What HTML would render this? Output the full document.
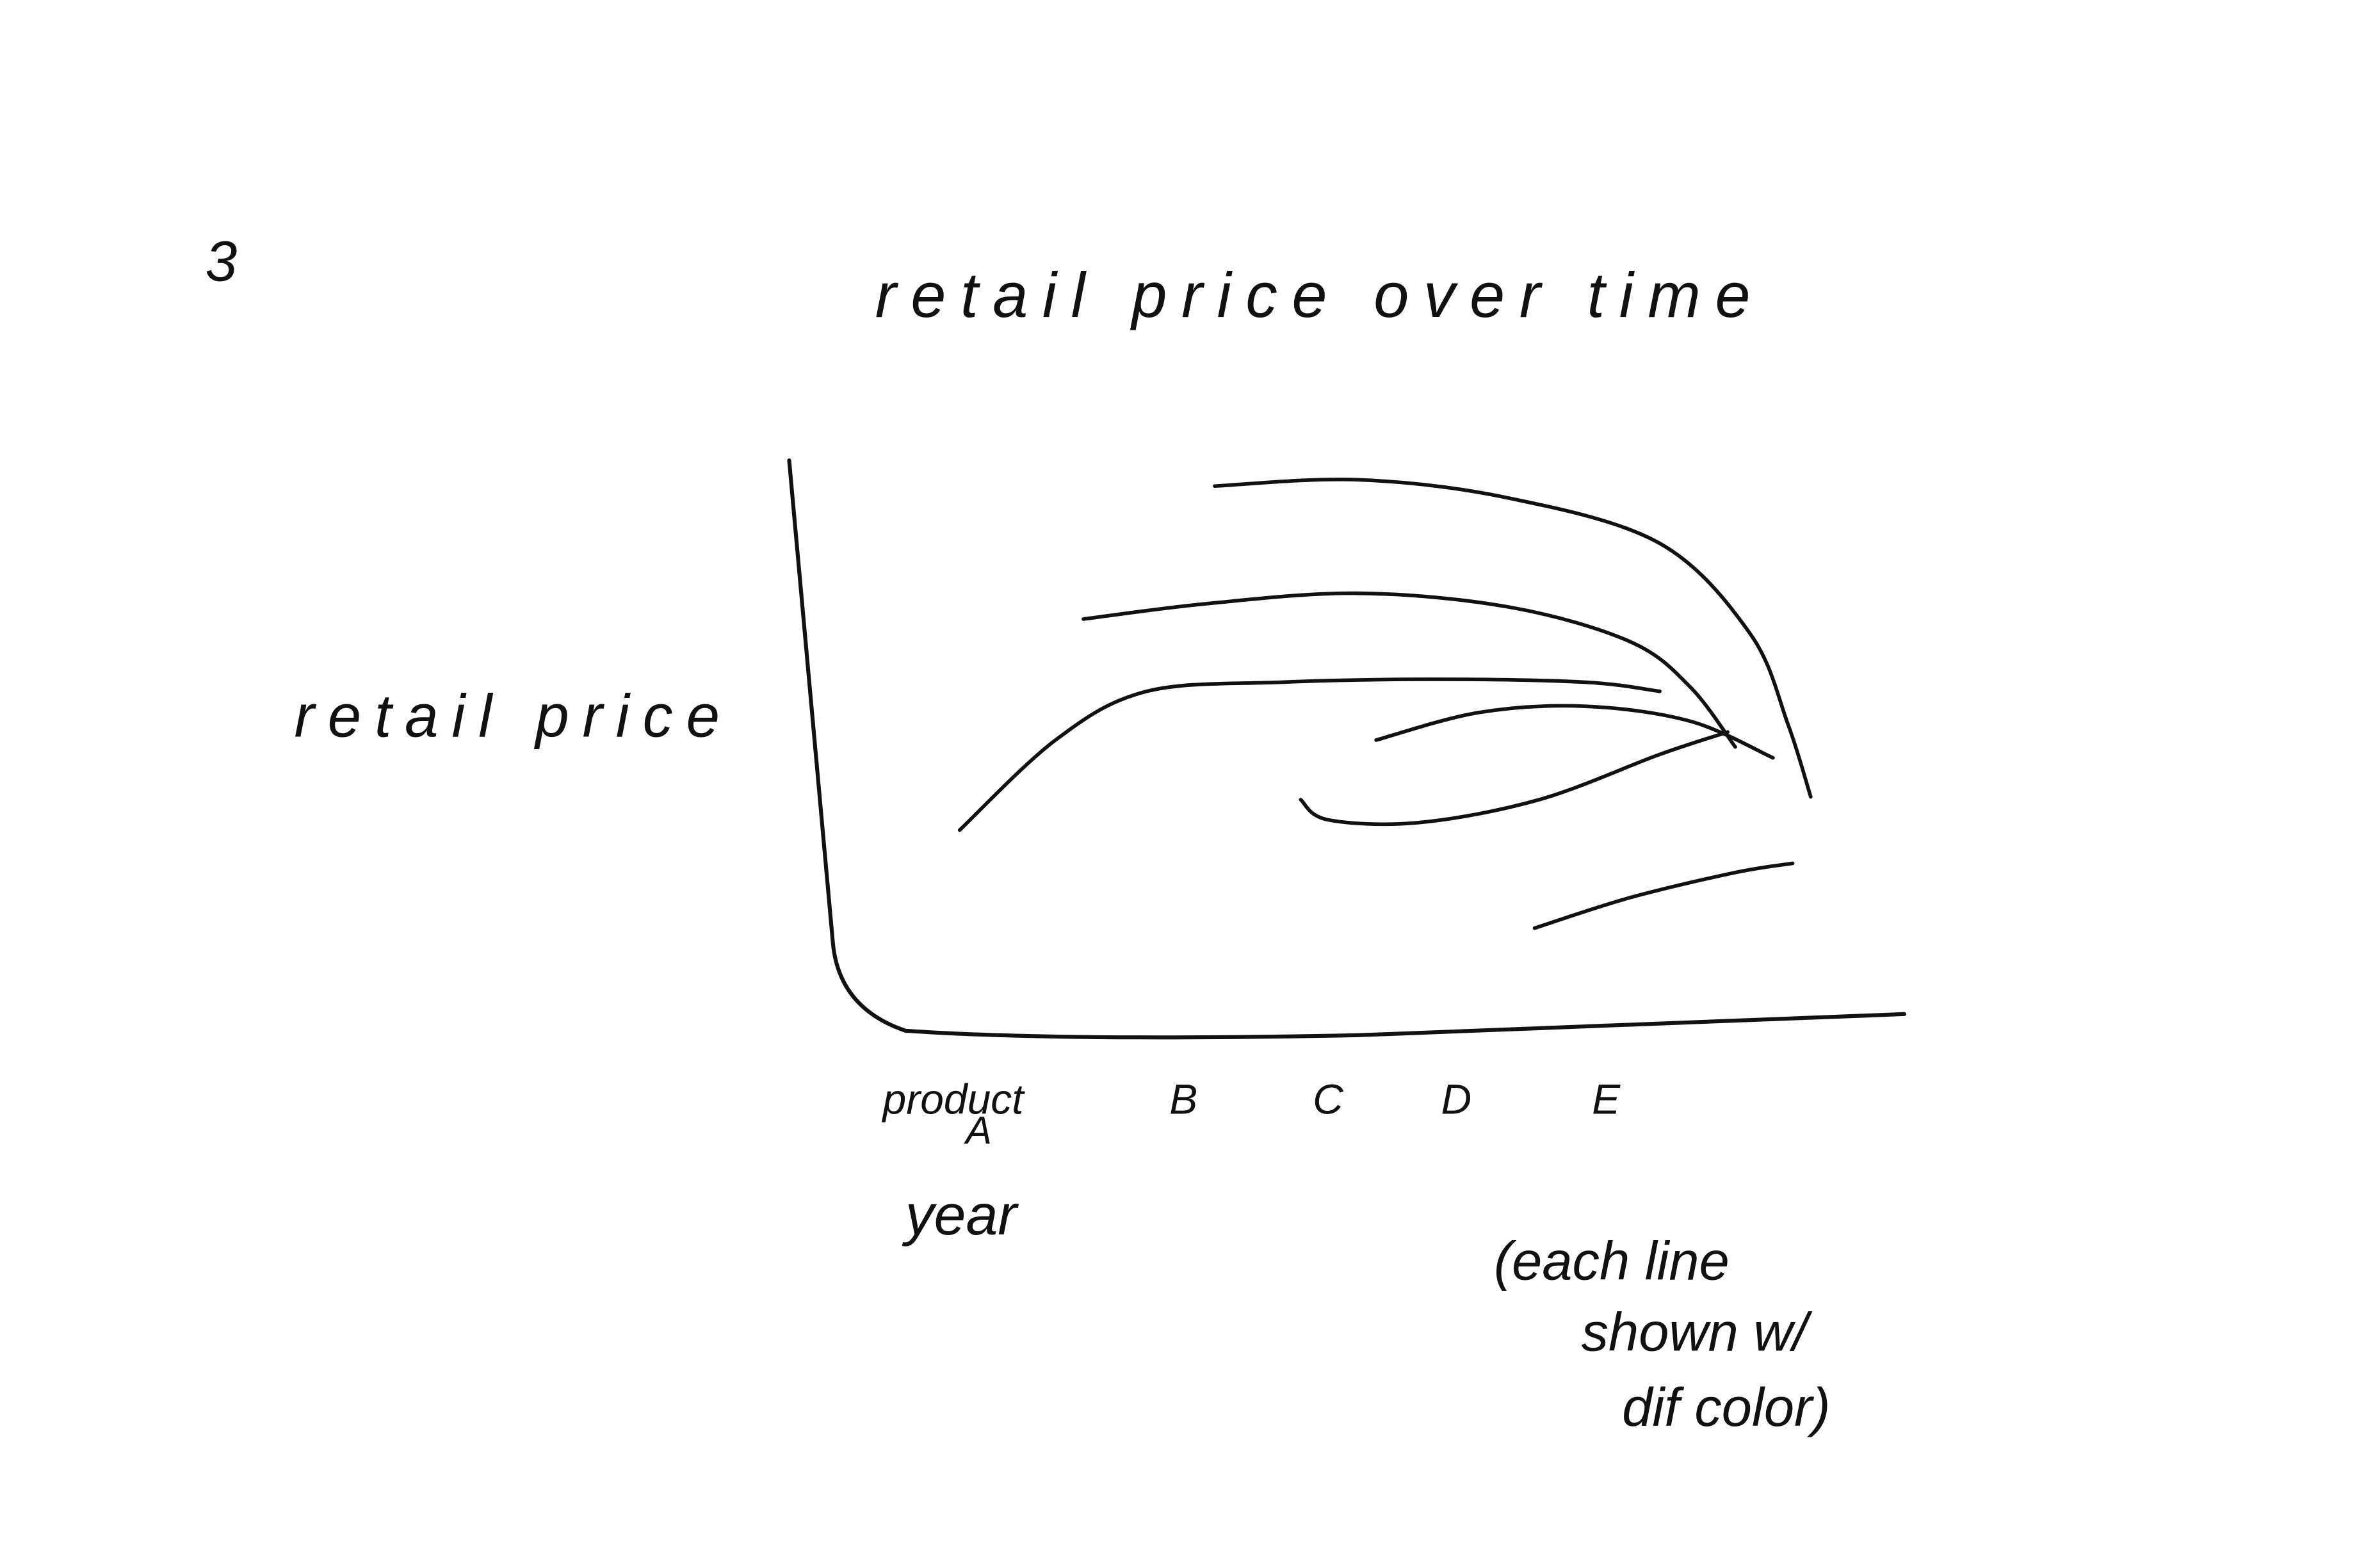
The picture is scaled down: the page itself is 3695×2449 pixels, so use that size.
<!DOCTYPE html>
<html><head><meta charset="utf-8"><style>
html,body{margin:0;padding:0;background:#fff;}
svg{display:block;}
text{font-family:"Liberation Sans",sans-serif;font-style:italic;fill:#111;}
</style></head><body>
<svg id="chart" width="3695" height="2449" viewBox="0 0 1568 1039" xmlns="http://www.w3.org/2000/svg">
<rect width="1568" height="1039" fill="#fff"/>
<text x="136" y="186" font-size="38">3</text>
<text x="580" y="210" font-size="42" textLength="580">retail price over time</text>
<text x="195" y="488" font-size="40" textLength="282">retail price</text>
<path d="M523,305 L552,625 Q556,668 600,683 Q700,690 900,686 L1262,672" fill="none" stroke="#111" stroke-width="2.6" stroke-linecap="round"/>
<g id="ticks"></g>
<text x="640" y="758" font-size="26">A</text>
<text x="600" y="818" font-size="38">year</text>
<text x="990" y="848" font-size="36">(each line</text>
<text x="1048" y="895" font-size="36">shown w/</text>
<text x="1075" y="945" font-size="36">dif color)</text>
<g id="lines"></g>
</svg>
<script>
const categories = ["product","B","C","D","E"];
const tickX = [0.25, 2.15, 3.1, 3.95, 4.95];
const s1x = [2.45,3.4,4.4,5.4,6.0,6.25,6.4];
const s1y = [9.42,9.53,9.21,8.42,6.84,5.26,4.0];
const s2x = [1.58,2.4,3.4,4.4,5.2,5.6,5.9];
const s2y = [7.1,7.37,7.55,7.31,6.71,5.92,4.87];
const s3x = [0.76,1.4,2.0,2.9,3.9,4.9,5.4];
const s3y = [3.42,5.0,5.84,6.0,6.05,6.0,5.84];
const s4x = [3.52,4.2,4.9,5.6,6.15];
const s4y = [4.99,5.47,5.58,5.32,4.68];
const s5x = [3.02,3.2,3.8,4.6,5.4,5.85];
const s5y = [3.95,3.6,3.55,3.95,4.74,5.13];
const s6x = [4.57,5.2,5.9,6.28];
const s6y = [1.71,2.24,2.68,2.84];
const NS="http://www.w3.org/2000/svg";
function xs(v){return 560+v*100;}
function ys(v){return 680-v*38;}
function path(xa,ya){
  const p=xa.map((x,i)=>[xs(x),ys(ya[i])]);
  let d="M"+p[0][0]+","+p[0][1];
  for(let i=0;i<p.length-1;i++){
    const p0=p[i-1]||p[i],p1=p[i],p2=p[i+1],p3=p[i+2]||p2;
    const c1=[p1[0]+(p2[0]-p0[0])/6,p1[1]+(p2[1]-p0[1])/6];
    const c2=[p2[0]-(p3[0]-p1[0])/6,p2[1]-(p3[1]-p1[1])/6];
    d+=` C${c1[0]},${c1[1]} ${c2[0]},${c2[1]} ${p2[0]},${p2[1]}`;
  }
  return d;
}
const g=document.getElementById("lines");
[[s1x,s1y],[s2x,s2y],[s3x,s3y],[s4x,s4y],[s5x,s5y],[s6x,s6y]].forEach((s,i)=>{
  const el=document.createElementNS(NS,"path");
  el.setAttribute("d",path(s[0],s[1]));
  el.setAttribute("fill","none");el.setAttribute("stroke","#111");
  el.setAttribute("stroke-width","2.4");el.setAttribute("stroke-linecap","round");
  
  
  g.appendChild(el);
});
const t=document.getElementById("ticks");
categories.forEach((c,i)=>{
  const el=document.createElementNS(NS,"text");
  el.setAttribute("x",xs(tickX[i]));el.setAttribute("y",738);
  el.setAttribute("font-size","28");
  el.textContent=c;
  
  
  t.appendChild(el);
});
</script>
</body></html>
